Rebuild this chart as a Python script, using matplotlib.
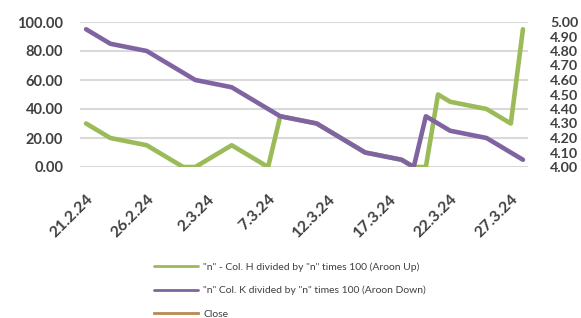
import pandas as pd
import matplotlib
matplotlib.use('Agg')
from matplotlib import pyplot as plt

# trading days shown on the chart
dates = ['2024-02-21', '2024-02-22', '2024-02-23', '2024-02-26', '2024-02-27',
         '2024-02-28', '2024-02-29', '2024-03-01', '2024-03-04', '2024-03-05',
         '2024-03-06', '2024-03-07', '2024-03-08', '2024-03-11', '2024-03-12',
         '2024-03-13', '2024-03-14', '2024-03-15', '2024-03-18', '2024-03-19',
         '2024-03-20', '2024-03-21', '2024-03-22', '2024-03-25', '2024-03-26',
         '2024-03-27', '2024-03-28']
aroon_up = [30, 25, 20, 15, 10, 5, 0, 0, 15, 10, 5, 0, 35, 30, 25, 20, 15, 10,
            5, 0, 0, 50, 45, 40, 35, 30, 95]
aroon_down = [95, 90, 85, 80, 75, 70, 65, 60, 55, 50, 45, 40, 35, 30, 25, 20,
              15, 10, 5, 0, 35, 30, 25, 20, 15, 10, 5]
close = []  # not visible in the chart, legend only
tick_dates = ['2024-02-21', '2024-02-26', '2024-03-02', '2024-03-07',
              '2024-03-12', '2024-03-17', '2024-03-22', '2024-03-27']
left_ticks = [0, 20, 40, 60, 80, 100]
right_ticks = [4.0, 4.1, 4.2, 4.3, 4.4, 4.5, 4.6, 4.7, 4.8, 4.9, 5.0]

labels = ['"n" - Col. H divided by "n" times 100 (Aroon Up)',
          '"n" Col. K divided by "n" times 100 (Aroon Down)',
          'Close']

plt.rcParams['font.family'] = ['Lato', 'DejaVu Sans']
txt = '#404040'

x = pd.to_datetime(dates)
xt = pd.to_datetime(tick_dates)

fig = plt.figure(figsize=(5.81, 3.18), dpi=100)
ax = fig.add_axes([80 / 581, 1 - 167 / 318, 448 / 581, 145 / 318])
ax2 = ax.twinx()

l1, = ax.plot(x, aroon_up, color='#9BBB59', lw=3.3, solid_joinstyle='round', solid_capstyle='round')
l2, = ax.plot(x, aroon_down, color='#8064A2', lw=3.3, solid_joinstyle='round', solid_capstyle='round')
l3, = ax2.plot(pd.to_datetime(close and dates), close, color='#B88A50', lw=2)

ax.set_xlim(x[0] - pd.Timedelta(hours=12), x[-1] + pd.Timedelta(hours=10))
ax.set_ylim(0, 100)
ax2.set_ylim(4.0, 5.0)
ax.set_yticks(left_ticks)
ax.set_yticklabels([f'{v:.2f}' for v in left_ticks], fontsize=10.5, fontweight='bold', color=txt)
ax2.set_yticks(right_ticks)
ax2.set_yticklabels([f'{v:.2f}' for v in right_ticks], fontsize=10.3, fontweight='bold', color=txt)
ax.set_xticks(xt)
ax.set_xticklabels([f'{d.day}.{d.month}.{d:%y}' for d in xt], fontsize=11.5,
                   fontweight='bold', color=txt, rotation=45, ha='right',
                   va='top', rotation_mode='anchor')

ax.yaxis.grid(True, color='#D9D9D9', lw=1.5)
ax.set_axisbelow(True)
for a in (ax, ax2):
    for s in a.spines.values():
        s.set_visible(False)
    a.tick_params(length=0)
ax.tick_params(axis='y', pad=12)
ax2.tick_params(axis='y', pad=16)
ax.tick_params(axis='x', pad=18)

fig.legend([l1, l2, l3], labels, loc='upper left', bbox_to_anchor=(150 / 581, 1 - 258 / 318),
           frameon=False, fontsize=7.5, labelcolor=txt, handlelength=4.2,
           labelspacing=1.35, handletextpad=0.5, borderaxespad=0)
for h in fig.legends[0].legend_handles:
    h.set_linewidth(2)

fig.savefig('out.png', dpi=100, facecolor='white')
